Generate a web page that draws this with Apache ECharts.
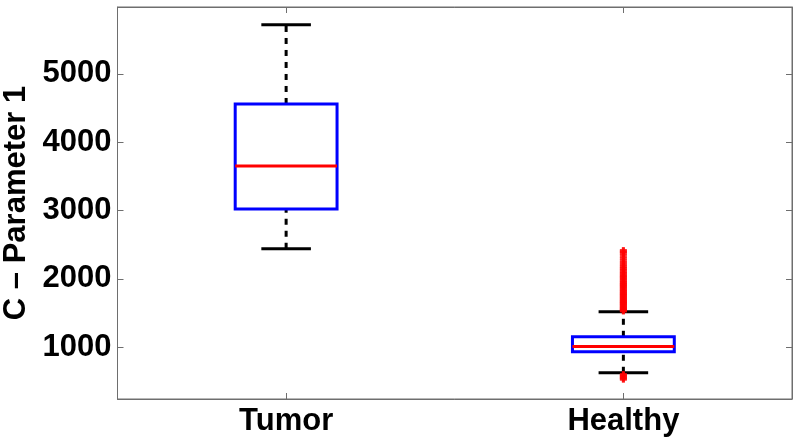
<!DOCTYPE html>
<html>
<head>
<meta charset="utf-8">
<script src="https://cdn.jsdelivr.net/npm/echarts@6/dist/echarts.min.js"></script>
<style>html,body{margin:0;padding:0;background:#fff}#c{width:800px;height:447px}</style>
</head>
<body>
<div id="c"></div>
<script>
const categories = ['Tumor', 'Healthy'];
const whiskerLow = [2440, 624];
const q1 = [3023, 931];
const median = [3650, 1010];
const q3 = [4560, 1151];
const whiskerHigh = [5720, 1517];
const outlierHealthy = [528, 545, 562, 580, 598,
  1528, 1541, 1556, 1570, 1588, 1603, 1619, 1637, 1650, 1668, 1684, 1702, 1719, 1733,
  1751, 1770, 1786, 1805, 1822, 1840, 1861, 1879, 1897, 1918, 1936, 1955, 1977, 1996,
  2018, 2039, 2061, 2083, 2104, 2129, 2152, 2176, 2203, 2231, 2262, 2298, 2335, 2372, 2395, 2415];
const yTicks = [1000, 2000, 3000, 4000, 5000];
const yMin = 240, yMax = 5980;
const yTitle = 'C \u2013 Parameter 1';

const FONT = '"Liberation Sans", Arial, sans-serif';
const AX = '#6e6e6e';

const boxData = categories.map((c, i) => [i, whiskerLow[i], q1[i], median[i], q3[i], whiskerHigh[i]]);
const outData = outlierHealthy.map(v => [1, v]);

const chart = echarts.init(document.getElementById('c'), null, {renderer: 'canvas'});
chart.setOption({
  animation: false,
  backgroundColor: '#fff',
  grid: {left: 117.5, right: 8, top: 7, bottom: 48, show: true, borderColor: AX, borderWidth: 1,
    containLabel: false, outerBoundsMode: 'none'},
  xAxis: [{
    type: 'category', data: categories, position: 'bottom',
    axisLine: {show: true, lineStyle: {color: AX, width: 1}},
    axisTick: {show: true, inside: true, alignWithLabel: true, length: 6, lineStyle: {color: AX}},
    axisLabel: {color: '#000', fontFamily: FONT, fontWeight: 'bold', fontSize: 31, margin: 7},
    splitLine: {show: false}
  }, {
    type: 'category', data: categories, position: 'top',
    axisLine: {show: true, lineStyle: {color: AX, width: 1}},
    axisTick: {show: true, inside: true, alignWithLabel: true, length: 6, lineStyle: {color: AX}},
    axisLabel: {show: false}, splitLine: {show: false}
  }],
  yAxis: [{
    type: 'value', min: yMin, max: yMax, position: 'left',
    name: yTitle, nameLocation: 'middle', nameGap: 84, nameRotate: 90,
    nameTextStyle: {color: '#000', fontFamily: FONT, fontWeight: 'bold', fontSize: 31},
    axisLine: {show: true, lineStyle: {color: AX, width: 1}},
    axisTick: {show: true, inside: true, length: 6, customValues: yTicks, lineStyle: {color: AX}},
    axisLabel: {color: '#000', fontFamily: FONT, fontWeight: 'bold', fontSize: 31, margin: 6,
      customValues: yTicks, formatter: v => String(v)},
    splitLine: {show: false}
  }, {
    type: 'value', min: yMin, max: yMax, position: 'right',
    axisLine: {show: true, lineStyle: {color: AX, width: 1}},
    axisTick: {show: true, inside: true, length: 6, customValues: yTicks, lineStyle: {color: AX}},
    axisLabel: {show: false}, splitLine: {show: false}
  }],
  series: [{
    type: 'custom',
    xAxisIndex: 0, yAxisIndex: 0,
    data: boxData,
    encode: {x: 0, y: [1, 2, 3, 4, 5]},
    renderItem: function (params, api) {
      const x = api.value(0);
      const band = api.size([1, 0])[0];
      const bw = band * 0.302, cw = band * 0.147;
      const pLow = api.coord([x, api.value(1)]);
      const pQ1 = api.coord([x, api.value(2)]);
      const pMed = api.coord([x, api.value(3)]);
      const pQ3 = api.coord([x, api.value(4)]);
      const pHigh = api.coord([x, api.value(5)]);
      const cx = pMed[0];
      const dash = {stroke: '#000', lineWidth: 3, lineDash: [6, 6]};
      const solid = {stroke: '#000', lineWidth: 3};
      return {
        type: 'group',
        children: [
          {type: 'line', shape: {x1: cx, y1: pQ3[1], x2: cx, y2: pHigh[1]}, style: dash},
          {type: 'line', shape: {x1: cx, y1: pLow[1], x2: cx, y2: pQ1[1]}, style: dash},
          {type: 'line', shape: {x1: cx - cw / 2, y1: pHigh[1], x2: cx + cw / 2, y2: pHigh[1]}, style: solid},
          {type: 'line', shape: {x1: cx - cw / 2, y1: pLow[1], x2: cx + cw / 2, y2: pLow[1]}, style: solid},
          {type: 'rect', shape: {x: cx - bw / 2, y: pQ3[1], width: bw, height: pQ1[1] - pQ3[1]},
            style: {fill: 'none', stroke: '#0000ff', lineWidth: 3}},
          {type: 'line', shape: {x1: cx - bw / 2, y1: pMed[1], x2: cx + bw / 2, y2: pMed[1]},
            style: {stroke: '#ff0000', lineWidth: 3}}
        ]
      };
    },
    z: 2
  }, {
    type: 'scatter',
    xAxisIndex: 0, yAxisIndex: 0,
    data: outData,
    symbol: 'path://M3,0L3,6M0,3L6,3',
    symbolSize: 7,
    itemStyle: {color: 'none', borderColor: '#ff0000', borderWidth: 3},
    z: 3
  }]
});
</script>
</body>
</html>
